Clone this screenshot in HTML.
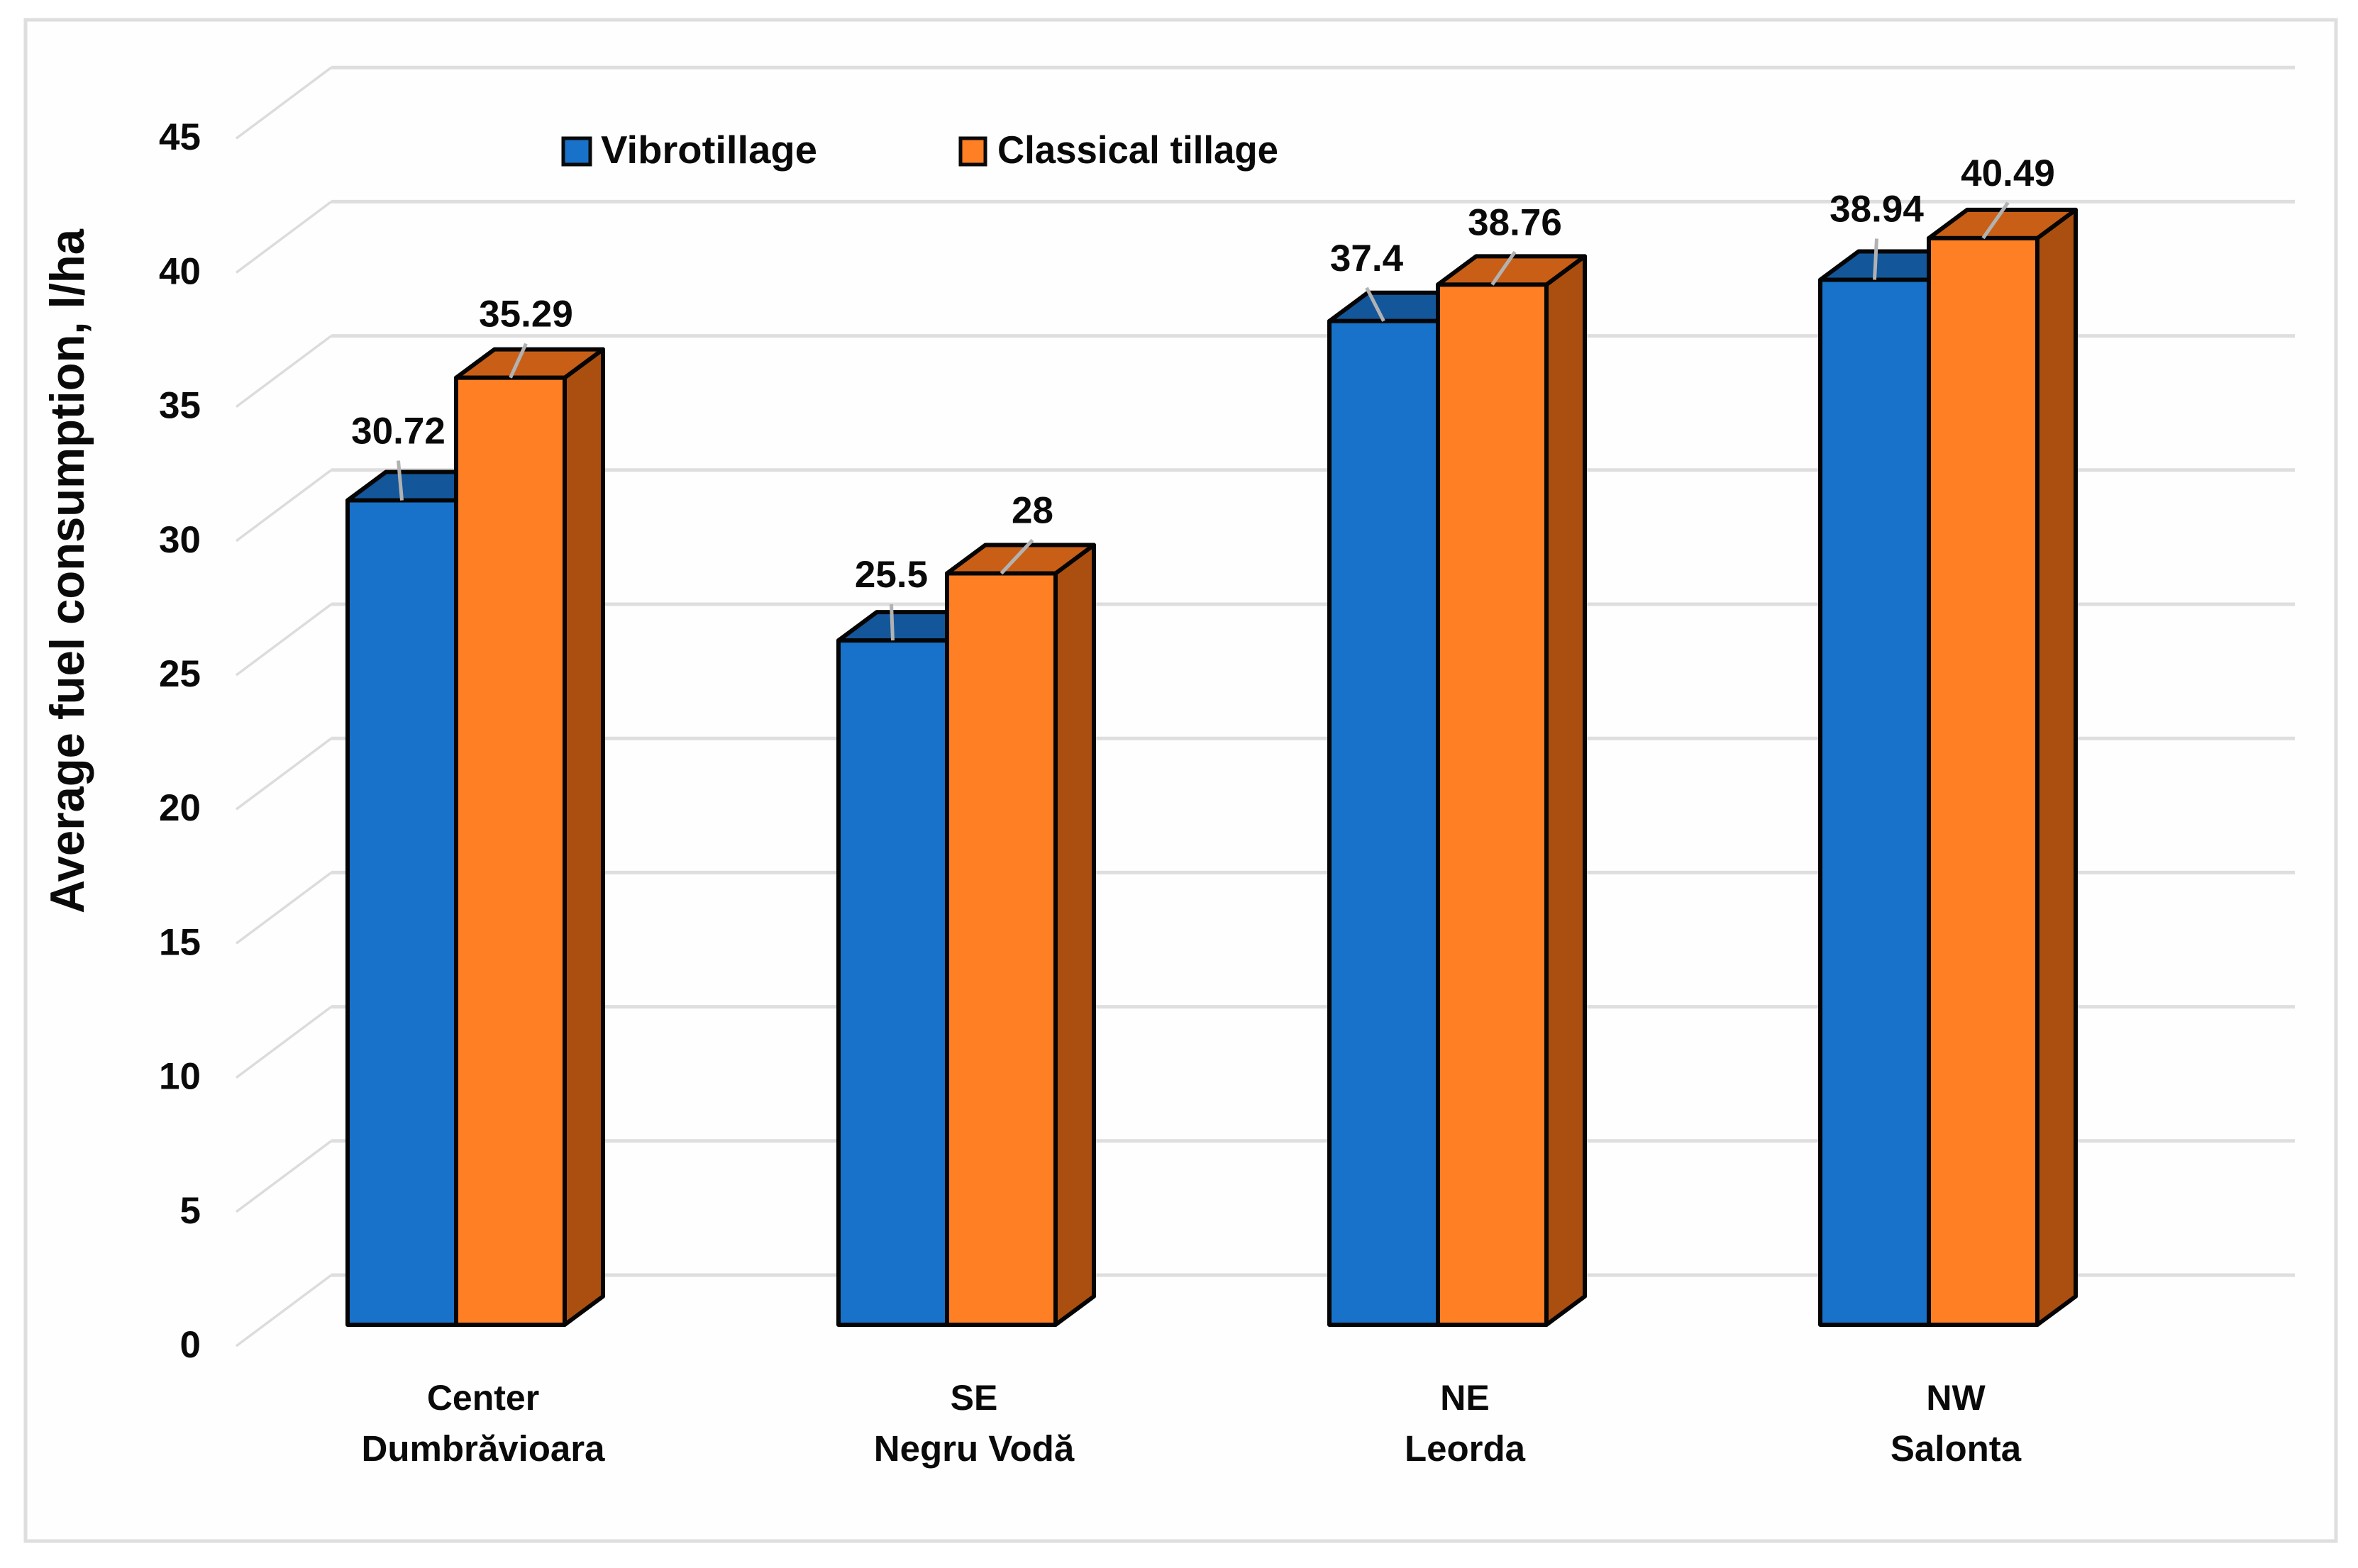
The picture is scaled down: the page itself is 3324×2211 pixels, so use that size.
<!DOCTYPE html>
<html lang="en">
<head>
<meta charset="utf-8">
<title>Average fuel consumption chart</title>
<style>
html,body{margin:0;padding:0;background:#fff;}
svg{display:block;}
text{font-family:"Liberation Sans",sans-serif;font-weight:700;fill:#0a0a0a;}
</style>
</head>
<body>
<svg id="chart" xmlns="http://www.w3.org/2000/svg" width="3324" height="2211" viewBox="0 0 3324 2211">
  <rect x="0" y="0" width="3324" height="2211" fill="#ffffff"/>
  <rect x="36" y="28" width="3257" height="2145" fill="#fefefe" stroke="#dedede" stroke-width="5"/>
  <g id="grid"></g>
  <g id="ticks"></g>
  <text transform="translate(118,1288) rotate(-90)" font-size="68" textLength="965" lengthAdjust="spacingAndGlyphs">Average fuel consumption, l/ha</text>
  <g id="bars"></g>
  <g id="cats"></g>
  <g id="labels"></g>
  <g>
    <g>
      <rect x="794" y="195" width="38" height="37" fill="#1872c9" stroke="#0a0a0a" stroke-width="5"/>
      <text x="847" y="230" font-size="55" textLength="305" lengthAdjust="spacingAndGlyphs">Vibrotillage</text>
    </g>
    <g>
      <rect x="1354" y="195" width="35" height="37" fill="#ff7f25" stroke="#0a0a0a" stroke-width="5"/>
      <text x="1406" y="230" font-size="55" textLength="396" lengthAdjust="spacingAndGlyphs">Classical tillage</text>
    </g>
  </g>
</svg>
<script>
const categoriesTop = ["Center", "SE", "NE", "NW"];
const categoriesBottom = ["Dumbrăvioara", "Negru Vodă", "Leorda", "Salonta"];
const vibrotillage = [30.72, 25.5, 37.4, 38.94];
const classicalTillage = [35.29, 28, 38.76, 40.49];
const yTicks = [0, 5, 10, 15, 20, 25, 30, 35, 40, 45];

// Layout constants
const NS = "http://www.w3.org/2000/svg";
const PER_UNIT = 37.84, BASE_Y = 1868, BACK_Y0 = 1798, DIAG_DX = 134, DIAG_DY = 100;
const BACK_X = 467, RIGHT_X = 3235;
const GROUP_X0 = 490, GROUP_STEP = 692, BAR_W = 153;
const DEPTH_X = 54, DEPTH_Y = 40;
const COLORS = [
  {front: "#1872c9", top: "#14569a", side: "#11497f"},
  {front: "#ff7f25", top: "#c95f16", side: "#ab4f11"}
];
// Hand-placed data-label nudges relative to each bar's front-top centre (series -> category)
const labelNudgeX = [[-5, -2, -24, 3], [22, 44, 32, 35]];
const labelRise = [[80, 75, 71, 82], [72, 71, 70, 74]];

function yBar(v) { return BASE_Y - v * PER_UNIT; }
function yBack(v) { return BACK_Y0 - v * PER_UNIT; }
function xBar(cat, series) { return GROUP_X0 + cat * GROUP_STEP + series * BAR_W; }

function mk(parent, tag, attrs, text) {
  const el = document.createElementNS(NS, tag);
  for (const k in attrs) el.setAttribute(k, attrs[k]);
  if (text !== undefined) el.textContent = text;
  parent.appendChild(el);
  return el;
}

const grid = document.getElementById("grid");
const ticks = document.getElementById("ticks");
yTicks.forEach(function (t) {
  const yb = yBack(t);
  const pts = (BACK_X - DIAG_DX) + "," + (yb + DIAG_DY) + " " + BACK_X + "," + yb;
  const diag = mk(grid, "polyline", {points: pts, fill: "none", stroke: "#dcdcdc", "stroke-width": 3.5});
  
  
  const line = mk(grid, "line", {x1: BACK_X, y1: yb, x2: RIGHT_X, y2: yb, stroke: "#dedede", "stroke-width": 5});
  
  
  const label = mk(ticks, "text", {x: 283, y: yb + DIAG_DY + 16, "text-anchor": "end", "font-size": 53}, String(t));
  
  
});

const barsG = document.getElementById("bars");
const labelsG = document.getElementById("labels");
[vibrotillage, classicalTillage].forEach(function (series, s) {
  series.forEach(function (v, c) {
    const x = xBar(c, s), top = yBar(v), c0 = COLORS[s];
    const g = mk(barsG, "g", {"stroke": "#050505", "stroke-width": 6, "stroke-linejoin": "round"});
    
    
    const side = mk(g, "polygon", {fill: c0.side, points:
      (x + BAR_W) + "," + top + " " + (x + BAR_W + DEPTH_X) + "," + (top - DEPTH_Y) + " " +
      (x + BAR_W + DEPTH_X) + "," + (BASE_Y - DEPTH_Y) + " " + (x + BAR_W) + "," + BASE_Y});
    
    
    const cap = mk(g, "polygon", {fill: c0.top, points:
      x + "," + top + " " + (x + DEPTH_X) + "," + (top - DEPTH_Y) + " " +
      (x + BAR_W + DEPTH_X) + "," + (top - DEPTH_Y) + " " + (x + BAR_W) + "," + top});
    
    
    const front = mk(g, "rect", {fill: c0.front, x: x, y: top, width: BAR_W, height: BASE_Y - top});
    
    
  });
});

[vibrotillage, classicalTillage].forEach(function (series, s) {
  series.forEach(function (v, c) {
    const cx = xBar(c, s) + BAR_W / 2, top = yBar(v);
    const lx = cx + labelNudgeX[s][c], base = top - labelRise[s][c];
    const leader = mk(labelsG, "line", {x1: cx, y1: top, x2: lx, y2: base + 24, stroke: "#b2b2b2", "stroke-width": 5});
    
    
    const t = mk(labelsG, "text", {x: lx, y: base, "text-anchor": "middle", "font-size": 53}, String(v));
    
    
  });
});

const cats = document.getElementById("cats");
categoriesTop.forEach(function (name, c) {
  const cx = GROUP_X0 + c * GROUP_STEP + 191;
  const a = mk(cats, "text", {x: cx, y: 1988, "text-anchor": "middle", "font-size": 50}, name);
  
  
  const b = mk(cats, "text", {x: cx, y: 2060, "text-anchor": "middle", "font-size": 51}, categoriesBottom[c]);
  
  
});
</script>
</body>
</html>
